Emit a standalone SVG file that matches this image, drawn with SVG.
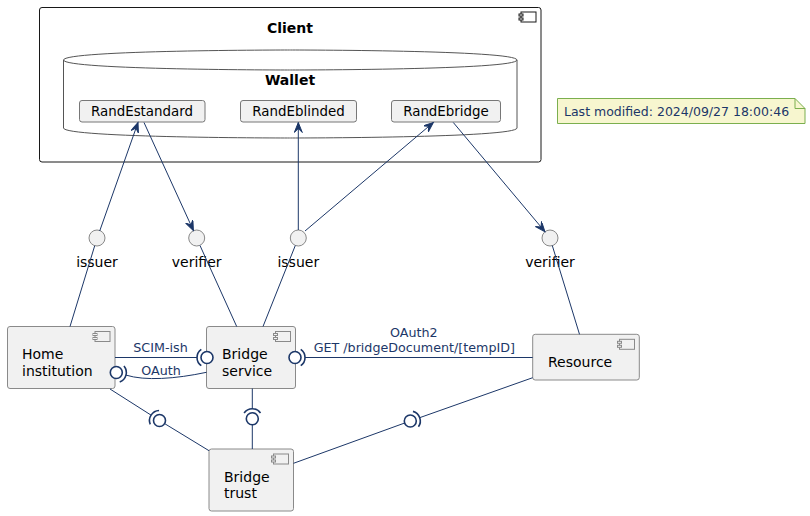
<svg xmlns="http://www.w3.org/2000/svg" width="810" height="516" viewBox="0 0 810 516">
<style>
text{font-family:"DejaVu Sans","Liberation Sans",sans-serif;}
.comp{fill:#F1F1F1;stroke:#8A8A8A;stroke-width:1;}
.icon{fill:#F1F1F1;stroke:#8A8A8A;stroke-width:1;}
.ctext{font-size:14px;fill:#000;}
.item{fill:#F1F1F1;stroke:#777;stroke-width:1;}
.itext{font-size:13.4px;fill:#000;text-anchor:middle;}
.ifc{fill:#F1F1F1;stroke:#888;stroke-width:1;}
.iftext{font-size:14px;fill:#000;text-anchor:middle;}
.ln{fill:none;stroke:#1C3768;stroke-width:1;}
.sock{fill:none;stroke:#1C3768;stroke-width:1.6;}
.ball{fill:#FFFFFF;stroke:#1C3768;stroke-width:1.6;}
.lbl{font-size:12.7px;fill:#1C3768;text-anchor:middle;}
.title{font-size:14px;font-weight:bold;fill:#000;text-anchor:middle;}
</style>
<defs>
<marker id="arr" markerUnits="userSpaceOnUse" markerWidth="12" markerHeight="10" refX="10" refY="4" orient="auto">
<path d="M0,0 L10,4 L0,8 L4,4 Z" fill="#1C3768" stroke="#1C3768" stroke-width="1"/>
</marker>
</defs>
<rect width="810" height="516" fill="#FFFFFF"/>

<g id="client">
<rect x="39.5" y="7.5" width="501.5" height="154.5" rx="2.5" fill="#FFFFFF" stroke="#181818" stroke-width="1"/>
<rect x="521" y="12" width="15" height="10" fill="#FFFFFF" stroke="#181818" stroke-width="1"/>
<rect x="519" y="14" width="4" height="2" fill="#FFFFFF" stroke="#181818" stroke-width="1"/>
<rect x="519" y="18" width="4" height="2" fill="#FFFFFF" stroke="#181818" stroke-width="1"/>
<text class="title" x="290" y="32.5">Client</text>
</g>

<g id="wallet">
<path d="M63.5,60 C63.5,50 290,50 290,50 C290,50 517,50 517,60 L517,128 C517,138 290,138 290,138 C290,138 63.5,138 63.5,128 Z" fill="#FFFFFF" stroke="#555" stroke-width="1"/>
<path d="M63.5,60 C63.5,70 290,70 290,70 C290,70 517,70 517,60" fill="none" stroke="#555" stroke-width="1"/>
<text class="title" x="290" y="85">Wallet</text>
</g>

<g id="RandEstandard">
<rect class="item" x="79.5" y="100.5" width="125.5" height="21.5" rx="2.5"/>
<text class="itext" x="142" y="116">RandEstandard</text>
</g>
<g id="RandEblinded">
<rect class="item" x="240.5" y="100.5" width="116" height="21.5" rx="2.5"/>
<text class="itext" x="298.5" y="116">RandEblinded</text>
</g>
<g id="RandEbridge">
<rect class="item" x="391.5" y="100.5" width="109" height="21.5" rx="2.5"/>
<text class="itext" x="446" y="116">RandEbridge</text>
</g>

<g id="note">
<path d="M557.5,98.5 L795,98.5 L805,108.5 L805,123.5 L557.5,123.5 Z" fill="#F7F6CF" stroke="#7BAF4E" stroke-width="1"/>
<path d="M795,98.5 L795,108.5 L805,108.5" fill="none" stroke="#7BAF4E" stroke-width="1"/>
<text x="564" y="116" font-size="12.5" fill="#1C3768">Last modified: 2024/09/27 18:00:46</text>
</g>

<g id="iface-issuer1">
<circle class="ifc" cx="97" cy="238" r="8"/>
<text class="iftext" x="97" y="267">issuer</text>
</g>
<g id="iface-verifier1">
<circle class="ifc" cx="196.7" cy="238" r="8"/>
<text class="iftext" x="196.7" y="267">verifier</text>
</g>
<g id="iface-issuer2">
<circle class="ifc" cx="298.3" cy="238" r="8"/>
<text class="iftext" x="298.3" y="267">issuer</text>
</g>
<g id="iface-verifier2">
<circle class="ifc" cx="550" cy="238" r="8"/>
<text class="iftext" x="550" y="267">verifier</text>
</g>

<g id="HomeInstitution">
<rect class="comp" x="7.5" y="326.5" width="107.5" height="62" rx="2.5"/>
<rect class="icon" x="95" y="331.5" width="15" height="10"/>
<rect class="icon" x="93" y="333.5" width="4" height="2"/>
<rect class="icon" x="93" y="337.5" width="4" height="2"/>
<text class="ctext" x="22" y="359">Home</text>
<text class="ctext" x="22" y="375.5">institution</text>
</g>
<g id="BridgeService">
<rect class="comp" x="206.5" y="326.5" width="89" height="62" rx="2.5"/>
<rect class="icon" x="275.5" y="331.5" width="15" height="10"/>
<rect class="icon" x="273.5" y="333.5" width="4" height="2"/>
<rect class="icon" x="273.5" y="337.5" width="4" height="2"/>
<text class="ctext" x="222" y="359">Bridge</text>
<text class="ctext" x="222" y="375.5">service</text>
</g>
<g id="BridgeTrust">
<rect class="comp" x="209" y="449" width="84.5" height="62" rx="2.5"/>
<rect class="icon" x="273.5" y="454" width="15" height="10"/>
<rect class="icon" x="271.5" y="456" width="4" height="2"/>
<rect class="icon" x="271.5" y="460" width="4" height="2"/>
<text class="ctext" x="224" y="482">Bridge</text>
<text class="ctext" x="224" y="498">trust</text>
</g>
<g id="Resource">
<rect class="comp" x="532.7" y="334.3" width="106.6" height="45.7" rx="2.5"/>
<rect class="icon" x="619.5" y="339.3" width="15" height="10"/>
<rect class="icon" x="617.5" y="341.3" width="4" height="2"/>
<rect class="icon" x="617.5" y="345.3" width="4" height="2"/>
<text class="ctext" x="548" y="367">Resource</text>
</g>

<g id="connectors">
<line class="ln" x1="99.7" y1="231" x2="138" y2="122.5" marker-end="url(#arr)"/>
<line class="ln" x1="144" y1="122.5" x2="193.4" y2="230.5" marker-end="url(#arr)"/>
<line class="ln" x1="298.3" y1="230" x2="298.3" y2="122.5" marker-end="url(#arr)"/>
<line class="ln" x1="305" y1="231" x2="433.3" y2="122.5" marker-end="url(#arr)"/>
<line class="ln" x1="453.3" y1="122.5" x2="544.9" y2="231.6" marker-end="url(#arr)"/>
<line class="ln" x1="94.7" y1="245.8" x2="70" y2="326.5"/>
<line class="ln" x1="200" y1="245.5" x2="236.7" y2="326.5"/>
<line class="ln" x1="295.3" y1="245.5" x2="263" y2="326.5"/>
<line class="ln" x1="552.3" y1="245.6" x2="579.5" y2="334.3"/>
<line class="ln" x1="115" y1="357.5" x2="197" y2="357.5"/>
<path class="sock" d="M201.3,349.3 A10,10 0 0 0 201.3,365.7"/>
<circle class="ball" cx="207" cy="357.5" r="6"/>
<text class="lbl" x="160.5" y="351.5">SCIM-ish</text>
<path class="ln" d="M126,375.1 C145,381 175,379 206.5,372.3"/>
<path class="sock" d="M123.96,366.07 A10,10 0 0 1 119.72,381.9"/>
<circle class="ball" cx="116.3" cy="372.5" r="6"/>
<text class="lbl" x="161" y="374.5">OAuth</text>
<line class="ln" x1="305" y1="357.5" x2="532.7" y2="357.5"/>
<path class="sock" d="M300.74,349.3 A10,10 0 0 1 300.74,365.7"/>
<circle class="ball" cx="295" cy="357.5" r="6"/>
<text class="lbl" x="413.8" y="336.5">OAuth2</text>
<text class="lbl" x="414.3" y="351.5">GET /bridgeDocument/[tempID]</text>
<line class="ln" x1="252.3" y1="388.5" x2="252.3" y2="408.7"/>
<line class="ln" x1="252.3" y1="424.7" x2="252.3" y2="449"/>
<path class="sock" d="M244.1,412.96 A10,10 0 0 1 260.5,412.96"/>
<circle class="ball" cx="252.3" cy="418.7" r="6"/>
<line class="ln" x1="110" y1="389" x2="151.07" y2="415.13"/>
<line class="ln" x1="164.6" y1="423.6" x2="209" y2="450.7"/>
<path class="sock" d="M150.26,424.33 A10,10 0 0 1 159.06,410.51"/>
<circle class="ball" cx="159.5" cy="420.5" r="6"/>
<line class="ln" x1="532.7" y1="377.7" x2="419.73" y2="417.66"/>
<line class="ln" x1="404.7" y1="423" x2="293.5" y2="463.3"/>
<path class="sock" d="M412.97,411.36 A10,10 0 0 1 418.44,426.81"/>
<circle class="ball" cx="410.3" cy="421" r="6"/>
</g>
</svg>
